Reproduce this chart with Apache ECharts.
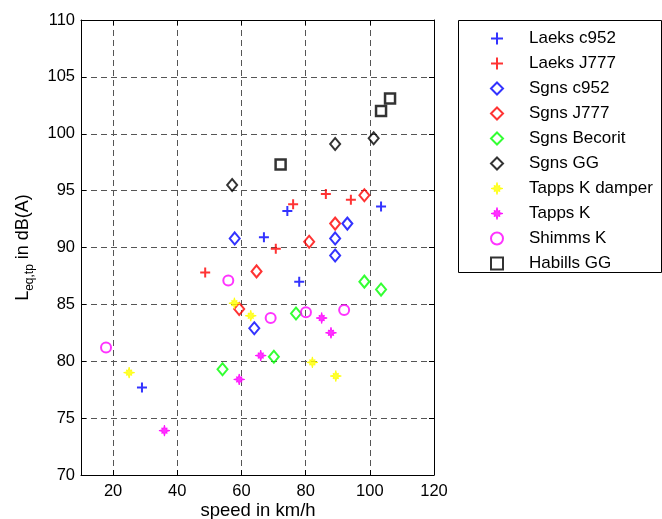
<!DOCTYPE html>
<html>
<head>
<meta charset="utf-8">
<script src="https://cdn.jsdelivr.net/npm/echarts@6/dist/echarts.min.js"></script>
<style>html,body{margin:0;padding:0;background:#fff}#c{width:662px;height:519px}</style>
</head>
<body>
<div id="c"></div>
<script>
// data: [speed km/h, Leq,tp dB(A)]
const laeksC952    = [[29,77.7],[67,90.9],[74.3,93.2],[78,87.0],[103.5,93.6]];
const laeksJ777    = [[48.7,87.8],[70.7,89.9],[76.1,93.8],[86.3,94.7],[94.1,94.2]];
const sgnsC952     = [[57.9,90.8],[64.0,82.9],[89.2,89.3],[89.2,90.8],[93.0,92.1]];
const sgnsJ777     = [[59.3,84.6],[64.7,87.9],[81.1,90.5],[89.2,92.1],[98.3,94.6]];
const sgnsBecorit  = [[54.1,79.3],[70.1,80.4],[77.0,84.2],[98.3,87.0],[103.5,86.3]];
const sgnsGG       = [[57.1,95.5],[89.2,99.1],[101.2,99.6]];
const tappsKdamper = [[25.0,79.0],[57.8,85.1],[62.9,84.0],[82.1,79.9],[89.4,78.7]];
const tappsK       = [[36.0,73.9],[59.3,78.4],[66.0,80.5],[85.0,83.8],[87.9,82.5]];
const shimmsK      = [[17.8,81.2],[55.9,87.1],[69.1,83.8],[80.1,84.3],[92.0,84.5]];
const habillsGG    = [[72.2,97.3],[103.5,102.0],[106.3,103.1]];

const seriesNames = ['Laeks c952','Laeks J777','Sgns c952','Sgns J777','Sgns Becorit','Sgns GG','Tapps K damper','Tapps K','Shimms K','Habills GG'];
const xLabel = 'speed in km/h';

const FONT = 'Liberation Sans, Arial, sans-serif';
const PLUS = 'path://M5,0L5,10M0,5L10,5';
const STAR = 'path://M0,-6L0.957,-2.31L2.97,-2.97L2.31,-0.957L6,0L2.31,0.957L2.97,2.97L0.957,2.31L0,6L-0.957,2.31L-2.97,2.97L-2.31,0.957L-6,0L-2.31,-0.957L-2.97,-2.97L-0.957,-2.31Z';
const T = 'rgba(255,255,255,0)';

function plus(name, data, col){
  return {name, type:'scatter', data, symbol:PLUS, symbolSize:10,
    itemStyle:{color:col, borderColor:col, borderWidth:2}};
}
function hollow(name, data, col, sym, size, bw){
  return {name, type:'scatter', data, symbol:sym, symbolSize:size,
    itemStyle:{color:T, borderColor:col, borderWidth:bw}};
}
function star(name, data, col){
  return {name, type:'scatter', data, symbol:STAR, symbolSize:11,
    itemStyle:{color:col, borderColor:col, borderWidth:1}};
}

const series = [
  plus(seriesNames[0], laeksC952, '#0000ff'),
  plus(seriesNames[1], laeksJ777, '#ff0000'),
  hollow(seriesNames[2], sgnsC952, '#0000ff', 'diamond', [10,12], 2),
  hollow(seriesNames[3], sgnsJ777, '#ff0000', 'diamond', [10,12], 2),
  hollow(seriesNames[4], sgnsBecorit, '#00ff00', 'diamond', [10,12], 2),
  hollow(seriesNames[5], sgnsGG, '#000000', 'diamond', [10,12], 2),
  star(seriesNames[6], tappsKdamper, '#ffff00'),
  star(seriesNames[7], tappsK, '#ff00ff'),
  hollow(seriesNames[8], shimmsK, '#ff00ff', 'circle', 10, 2),
  hollow(seriesNames[9], habillsGG, '#000000', 'rect', 10, 2.5)
];
series.forEach(s => { s.xAxisIndex = 0; s.yAxisIndex = 0; s.animation = false; s.emphasis = {disabled:true}; });

const legendData = seriesNames.map((n, i) => (i === 6 || i === 7)
  ? {name:n, itemStyle:{borderWidth:1}} : {name:n});

const gridLine = {show:true, lineStyle:{color:'#555', width:1, type:[6,4]}};
const axisLine = {show:true, onZero:false, lineStyle:{color:'#000', width:1}};

const option = {
  animation:false,
  backgroundColor:'#fff',
  grid:{left:81, top:20, right:228, bottom:44, containLabel:false, outerBoundsMode:'none'},
  xAxis:[
    {type:'value', min:10, max:120, minInterval:20, maxInterval:20, position:'bottom',
     axisLine, axisTick:{show:true, inside:true, length:5, lineStyle:{color:'#000'}},
     axisLabel:{show:true, showMinLabel:false, color:'#000', fontSize:16.5, fontFamily:FONT, margin:8},
     splitLine:gridLine},
    {type:'value', min:10, max:120, minInterval:20, maxInterval:20, position:'top',
     axisLine, axisTick:{show:true, inside:true, length:5, lineStyle:{color:'#000'}},
     axisLabel:{show:false}, splitLine:{show:false}}
  ],
  yAxis:[
    {type:'value', min:70, max:110, interval:5, position:'left',
     axisLine, axisTick:{show:true, inside:true, length:5, lineStyle:{color:'#000'}},
     axisLabel:{color:'#000', fontSize:16.5, fontFamily:FONT, margin:6},
     splitLine:gridLine,
     name:'{m|L}{s|eq,tp}{m| in dB(A)}', nameLocation:'middle', nameGap:45, nameRotate:90,
     nameTextStyle:{color:'#000', fontFamily:FONT,
       rich:{m:{fontSize:18, fontFamily:FONT, color:'#000', lineHeight:26, verticalAlign:'middle'},
             s:{fontSize:12, fontFamily:FONT, color:'#000', lineHeight:12, verticalAlign:'bottom'}}}},
    {type:'value', min:70, max:110, interval:5, position:'right',
     axisLine, axisTick:{show:true, inside:true, length:5, lineStyle:{color:'#000'}},
     axisLabel:{show:false}, splitLine:{show:false}}
  ],
  legend:{
    data:legendData, orient:'vertical', left:490, top:30,
    itemWidth:12, itemHeight:12, itemGap:8, selectedMode:false,
    textStyle:{color:'#000', fontSize:17, fontFamily:FONT, padding:[0,0,0,21]},
    padding:0
  },
  graphic:[
    {type:'rect', shape:{x:458.5, y:20.5, width:203, height:252},
     style:{fill:'none', stroke:'#000', lineWidth:1}, z:-1, silent:true},
    {type:'text', x:258, y:511, silent:true,
     style:{text:xLabel, fill:'#000', font:'18.5px ' + FONT, textAlign:'center', textVerticalAlign:'middle'}}
  ],
  series
};

const chart = echarts.init(document.getElementById('c'), null, {renderer:'canvas'});
chart.setOption(option);
</script>
</body>
</html>
